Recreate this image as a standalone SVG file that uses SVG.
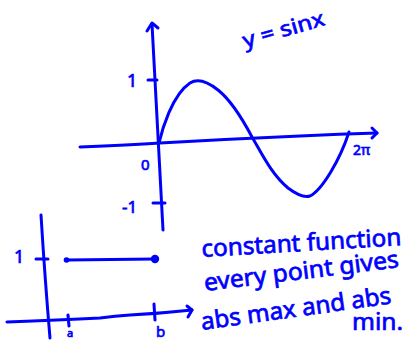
<svg xmlns="http://www.w3.org/2000/svg" width="408" height="342" viewBox="0 0 408 342">
<style>
.ln{fill:none;stroke:#0000ff;stroke-width:3;stroke-linecap:round;stroke-linejoin:round}
.tx{fill:#0000ff;stroke:#0000ff;stroke-width:0.7;font-family:"Noto Sans","DejaVu Sans",sans-serif}
</style>
<rect width="408" height="342" fill="#ffffff"/>
<g id="connectors">
<!-- top graph axes -->
<path class="ln" d="M152,24 Q157,120 163,230"/>
<path class="ln" d="M147,31 L152,23 L158,28"/>
<path class="ln" d="M80,147 Q130,145 160,143 Q230,139 300,136 Q340,134 377,133"/>
<path class="ln" d="M372,128 L377,133 L372,138"/>
<path class="ln" d="M148,80 L157,80"/>
<path class="ln" d="M153,203 L165,203"/>
<!-- sine curve -->
<path class="ln" d="M159,143 C162,130 172,95 190,83 C198,78 208,82 218,90 C232,101 243,120 252,137 C262,154 272,175 288,188 C296,194 304,198 310,196 C322,190 340,160 349,132"/>
<!-- bottom graph axes -->
<path class="ln" d="M41,215 Q45,280 50,338"/>
<path class="ln" d="M7,322 Q60,320 100,318 Q115,316 130,315 Q160,313.5 192,310"/>
<path class="ln" d="M187,306 L192,310 L188,317"/>
<path class="ln" d="M36,259 L48,259"/>
<path class="ln" d="M68,315 L69,326"/>
<path class="ln" d="M154,304 L155,320"/>
<path class="ln" d="M67,260 L155,259"/>
<circle cx="66.5" cy="260" r="2.8" fill="#0000ff"/>
<circle cx="155" cy="259" r="4.2" fill="#0000ff"/>
</g>
<g id="labels-top">
<text class="tx" x="245" y="48" font-size="21" textLength="84" lengthAdjust="spacingAndGlyphs" transform="rotate(-16 245 48)">y = sinx</text>
<text class="tx" x="127" y="87" font-size="18">1</text>
<text class="tx" x="141" y="170" font-size="15">0</text>
<text class="tx" x="122" y="213" font-size="17">-1</text>
<text class="tx" x="353" y="155" font-size="14">2π</text>
</g>
<g id="labels-bottom">
<text class="tx" x="14" y="263" font-size="18">1</text>
<text class="tx" x="67" y="337" font-size="11">a</text>
<text class="tx" x="156" y="337" font-size="15">b</text>
</g>
<g id="note">
<text class="tx" x="202" y="257" font-size="24" textLength="200" lengthAdjust="spacingAndGlyphs" transform="rotate(-3.4 202 257)">constant function</text>
<text class="tx" x="205" y="291" font-size="24" textLength="196" lengthAdjust="spacingAndGlyphs" transform="rotate(-7 205 291)">every point gives</text>
<text class="tx" x="202" y="330" font-size="24" textLength="192" lengthAdjust="spacingAndGlyphs" transform="rotate(-8 202 330)">abs max and abs</text>
<text class="tx" x="352" y="330" font-size="24" textLength="51" lengthAdjust="spacingAndGlyphs">min.</text>
</g>
</svg>
